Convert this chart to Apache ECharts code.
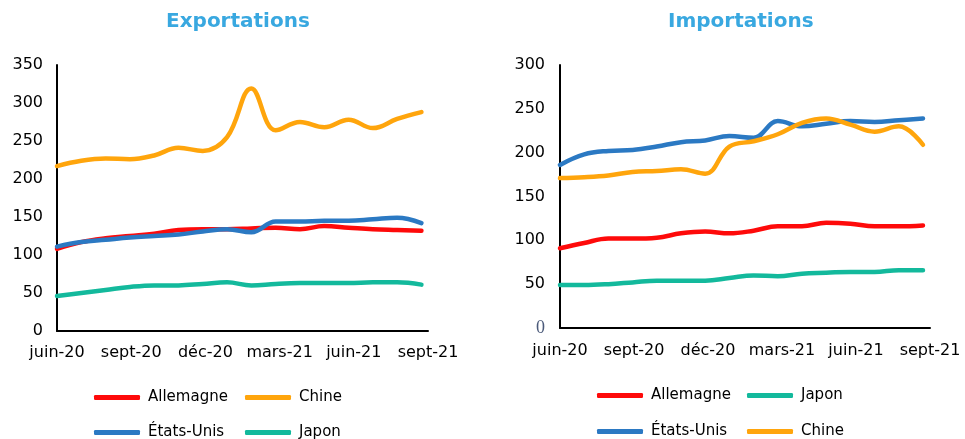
<!DOCTYPE html>
<html>
<head>
<meta charset="utf-8">
<script src="https://cdn.jsdelivr.net/npm/echarts@6/dist/echarts.min.js"></script>
<style>
  html, body { margin: 0; padding: 0; background: #fff; }
  #chart { width: 965px; height: 439px; }
</style>
</head>
<body>
<div id="chart"></div>
<script>
// Monthly trade values, June 2020 to September 2021
const months = ['juin-20', 'juil-20', 'août-20', 'sept-20', 'oct-20', 'nov-20', 'déc-20',
  'janv-21', 'févr-21', 'mars-21', 'avr-21', 'mai-21', 'juin-21', 'juil-21', 'août-21', 'sept-21'];
const tickLabels = ['juin-20', 'sept-20', 'déc-20', 'mars-21', 'juin-21', 'sept-21'];

// Exportations
const expAllemagne = [108, 117, 122, 125, 128, 133, 134, 134, 135, 136, 134, 138, 136, 134, 133, 132];
const expChine     = [217, 224, 227, 226, 231, 241, 237, 255, 319, 264, 275, 268, 278, 267, 279, 288];
const expEtatsUnis = [111, 117, 120, 123, 125, 127, 131, 134, 130, 144, 144, 145, 145, 147, 149, 142];
const expJapon     = [46, 50, 54, 58, 60, 60, 62, 64, 60, 62, 63, 63, 63, 64, 64, 61];

// Importations
const impAllemagne = [91, 97, 102, 102, 103, 108, 110, 108, 111, 116, 116, 120, 119, 116, 116, 117];
const impJapon     = [49, 49, 50, 52, 54, 54, 54, 57, 60, 59, 62, 63, 64, 64, 66, 66];
const impEtatsUnis = [186, 198, 202, 203, 207, 212, 214, 219, 217, 236, 230, 233, 236, 235, 237, 239];
const impChine     = [171, 172, 174, 178, 179, 181, 176, 207, 213, 221, 234, 239, 232, 224, 230, 209];

const COLORS = {
  'Allemagne': '#fe0a0a',
  'Chine': '#ffa50c',
  'États-Unis': '#2b79c3',
  'Japon': '#13b99c'
};
const FONT = 'DejaVu Sans';

const toPoints = arr => arr.map((v, i) => [i, v]);

function lineSeries(name, values, axisIdx) {
  return {
    name: name,
    type: 'line',
    xAxisIndex: axisIdx,
    yAxisIndex: axisIdx === 0 ? 0 : 1,
    data: toPoints(values),
    smooth: 0.4,
    symbol: 'none',
    lineStyle: { color: COLORS[name], width: 4.5, cap: 'round', join: 'round' },
    itemStyle: { color: COLORS[name] },
    silent: true
  };
}

// Data axis (draws the baseline) and label axis (month labels) for each panel
function dataXAxis(gridIndex, max) {
  return {
    type: 'value', gridIndex: gridIndex, min: 0, max: max, position: 'bottom',
    axisLine: { show: true, onZero: false, lineStyle: { color: '#000', width: 2 } },
    axisTick: { show: false }, axisLabel: { show: false }, splitLine: { show: false }
  };
}
function labelXAxis(gridIndex, margin) {
  return {
    type: 'value', gridIndex: gridIndex, min: 0, max: 15, interval: 3, position: 'bottom',
    axisLine: { show: false }, axisTick: { show: false }, splitLine: { show: false },
    axisLabel: {
      show: true, margin: margin, fontSize: 16, fontFamily: FONT, color: '#000',
      showMinLabel: true, showMaxLabel: true,
      formatter: v => (v % 3 === 0 && tickLabels[v / 3]) ? tickLabels[v / 3] : ''
    }
  };
}
function yAxisCfg(gridIndex, max, margin, extra) {
  return Object.assign({
    type: 'value', gridIndex: gridIndex, min: 0, max: max, interval: 50,
    axisLine: { show: true, lineStyle: { color: '#000', width: 2 } },
    axisTick: { show: false }, splitLine: { show: false },
    axisLabel: { margin: margin, fontSize: 16, fontFamily: FONT, color: '#000' }
  }, extra || {});
}

function legendItem(name, left, centerY) {
  return {
    data: [name], left: left, top: centerY - 6, padding: 0, orient: 'horizontal',
    itemWidth: 46, itemHeight: 5, icon: 'roundRect', selectedMode: false,
    textStyle: { fontSize: 15, fontFamily: FONT, color: '#000', padding: [0, 0, 0, 3] }
  };
}

const option = {
  animation: false,
  backgroundColor: '#fff',
  title: [
    { text: 'Exportations', left: 166, top: 12, padding: 0,
      textStyle: { fontSize: 20, fontWeight: 'bold', fontFamily: FONT, color: '#39a8e0' } },
    { text: 'Importations', left: 668, top: 12, padding: 0,
      textStyle: { fontSize: 20, fontWeight: 'bold', fontFamily: FONT, color: '#39a8e0' } }
  ],
  grid: [
    { left: 57, top: 65, width: 371, height: 266 },
    { left: 560, top: 65, width: 370, height: 263 }
  ],
  xAxis: [
    dataXAxis(0, 15.27),
    labelXAxis(0, 14),
    dataXAxis(1, 15.29),
    labelXAxis(1, 15)
  ],
  yAxis: [
    yAxisCfg(0, 350, 14),
    yAxisCfg(1, 300, 15, {
      axisLabel: {
        margin: 15, fontSize: 16, fontFamily: FONT, color: '#000',
        formatter: v => v === 0 ? '{z|0}' : String(v),
        rich: { z: { fontFamily: 'Liberation Serif', fontSize: 18, color: '#4b5a7a' } }
      }
    })
  ],
  legend: [
    legendItem('Allemagne', 94, 396),
    legendItem('Chine', 245, 396),
    legendItem('États-Unis', 94, 431),
    legendItem('Japon', 245, 431),
    legendItem('Allemagne', 597, 394),
    legendItem('Japon', 747, 394),
    legendItem('États-Unis', 597, 430),
    legendItem('Chine', 747, 430)
  ],
  series: [
    lineSeries('Allemagne', expAllemagne, 0),
    lineSeries('Chine', expChine, 0),
    lineSeries('États-Unis', expEtatsUnis, 0),
    lineSeries('Japon', expJapon, 0),
    lineSeries('Allemagne', impAllemagne, 2),
    lineSeries('Japon', impJapon, 2),
    lineSeries('États-Unis', impEtatsUnis, 2),
    lineSeries('Chine', impChine, 2)
  ]
};

const chart = echarts.init(document.getElementById('chart'), null, { renderer: 'canvas' });
chart.setOption(option);
</script>
</body>
</html>
